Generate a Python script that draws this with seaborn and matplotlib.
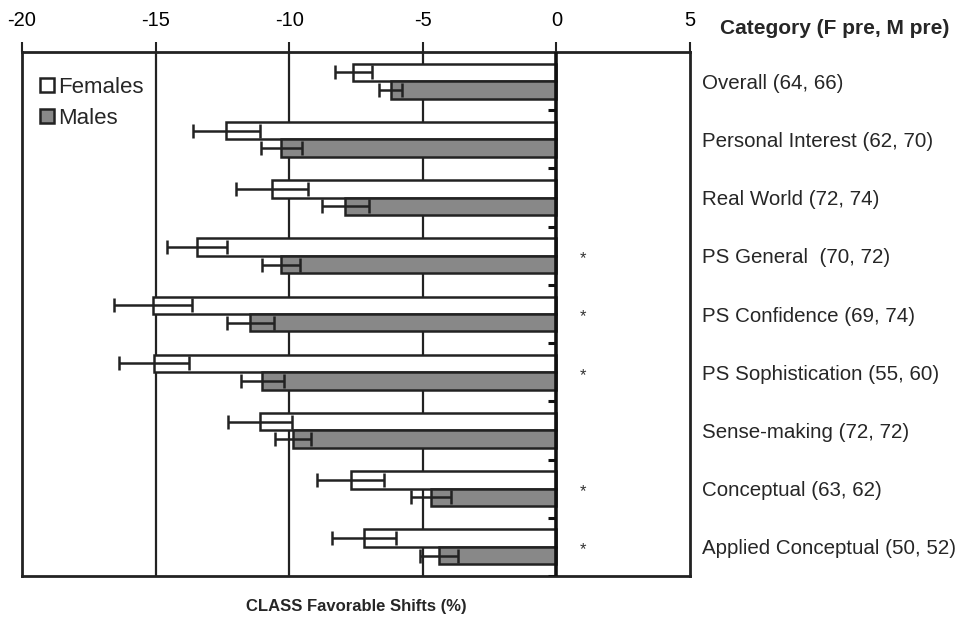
import matplotlib
matplotlib.use("Agg")
import matplotlib.pyplot as plt
import seaborn as sns
import pandas as pd
import numpy as np
from matplotlib.patches import Patch

categories = ["Overall (64, 66)", "Personal Interest (62, 70)", "Real World (72, 74)",
              "PS General  (70, 72)", "PS Confidence (69, 74)", "PS Sophistication (55, 60)",
              "Sense-making (72, 72)", "Conceptual (63, 62)", "Applied Conceptual (50, 52)"]
females = [-7.6, -12.35, -10.65, -13.45, -15.1, -15.05, -11.1, -7.7, -7.2]
males = [-6.2, -10.3, -7.9, -10.3, -11.45, -11.0, -9.85, -4.7, -4.4]
females_err = [0.7, 1.25, 1.34, 1.13, 1.47, 1.31, 1.19, 1.26, 1.18]
males_err = [0.43, 0.77, 0.87, 0.72, 0.88, 0.79, 0.67, 0.76, 0.7]
significant = [False, False, False, True, True, True, False, True, True]
x_ticks = [-20, -15, -10, -5, 0, 5]

sns.set_theme(style="white")
plt.rcParams['font.family'] = ['Liberation Sans', 'DejaVu Sans']
plt.rcParams['axes.unicode_minus'] = False

df = pd.DataFrame({
    "Category": categories * 2,
    "Shift": females + males,
    "Gender": ["Females"] * len(categories) + ["Males"] * len(categories),
})

fig = plt.figure(figsize=(9.65, 6.2), dpi=100)
ax = fig.add_axes([22 / 965, 1 - 576 / 620, (690 - 22) / 965, (576 - 52) / 620])

sns.barplot(data=df, x="Shift", y="Category", hue="Gender", orient="h",
            palette={"Females": "white", "Males": "#888888"}, width=0.6,
            edgecolor="#222222", linewidth=1.8, errorbar=None, ax=ax, legend=False)
for p in ax.patches:
    p.set_zorder(3)

errs = [females_err, males_err]
for cont, err in zip(ax.containers, errs):
    xs = [p.get_x() + p.get_width() for p in cont.patches]
    ys = [p.get_y() + p.get_height() / 2 for p in cont.patches]
    ax.errorbar(xs, ys, xerr=err, fmt="none", ecolor="#222222", elinewidth=1.8,
                capsize=5, capthick=1.8, zorder=4)

ax.set_xlim(x_ticks[0], x_ticks[-1])
ax.set_ylim(len(categories) - 0.5, -0.5)
ax.set_xticks(x_ticks)
ax.xaxis.tick_top()
ax.tick_params(axis="x", direction="out", length=7, width=1.5, labelsize=14.5,
               pad=9, colors="#222222")
ax.tick_params(axis="x", labelcolor="black")

for g in x_ticks[1:4]:
    ax.axvline(g, color="#222222", lw=1.6, zorder=1)
ax.axvline(0, color="#111111", lw=2.6, zorder=5)

for k in range(len(categories)):
    ax.hlines(k + 0.5, -0.3, 0, color="#111111", lw=2.2, zorder=5)

ax.set_yticks(range(len(categories)))
ax.yaxis.tick_right()
ax.set_yticklabels(categories, fontsize=14.8)
ax.tick_params(axis="y", length=0, pad=9)
ax.set_ylabel("")

for k, s in enumerate(significant):
    if s:
        ax.text(1.0, k + 0.05, "*", ha="center", va="center", fontsize=12, color="#333333")

for sp in ax.spines.values():
    sp.set_color("#222222")
    sp.set_linewidth(2)
    sp.set_visible(True)

ax.set_xlabel("")
fig.text(356 / 965, 1 - 606 / 620, "CLASS Favorable Shifts (%)", ha="center", va="center",
         fontsize=12, fontweight="bold")
fig.text(835 / 965, 1 - 29 / 620, "Category (F pre, M pre)", ha="center", va="center",
         fontsize=15, fontweight="bold")

handles = [Patch(facecolor="white", edgecolor="#222222", linewidth=1.8, label="Females"),
           Patch(facecolor="#888888", edgecolor="#222222", linewidth=1.8, label="Males")]
leg = ax.legend(handles=handles, loc="upper left", bbox_to_anchor=(0.014, 0.97), frameon=False,
                fontsize=16, handlelength=0.6, handleheight=0.6, handletextpad=0.2,
                labelspacing=0.45, borderaxespad=0)
leg.set_zorder(6)

fig.savefig("out.png", dpi=100, facecolor="white")
